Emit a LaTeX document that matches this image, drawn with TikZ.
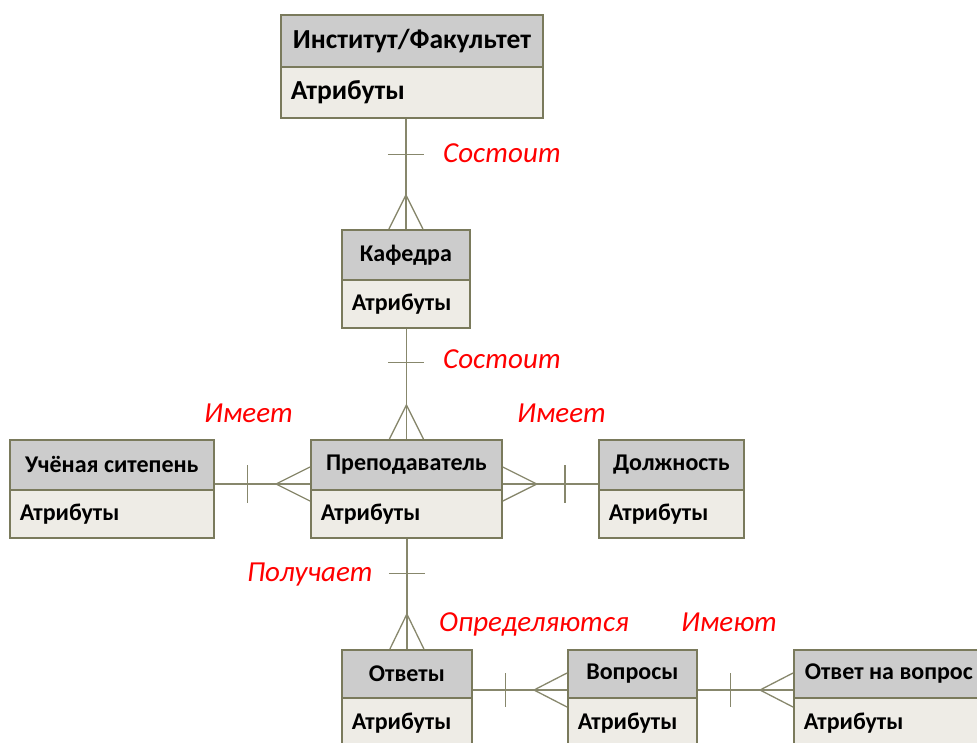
\documentclass[tikz,border=0pt]{standalone}
\usepackage{fontspec}
\setmainfont{Carlito}
\usetikzlibrary{calc}
\definecolor{hdrfill}{RGB}{204,204,204}
\definecolor{attrfill}{RGB}{238,236,230}
\definecolor{bord}{RGB}{122,122,92}
\definecolor{connc}{RGB}{135,135,108}
\definecolor{lblred}{RGB}{255,0,0}
\begin{document}
\begin{tikzpicture}[x=1pt,y=-1pt,
  hdr/.style={draw=bord, fill=hdrfill, line width=1.8pt, anchor=north west,
    inner sep=0pt, font=\bfseries\fontsize{24}{28}\selectfont},
  attr/.style={draw=bord, fill=attrfill, line width=1.8pt, anchor=north west,
    inner xsep=10pt, inner ysep=0pt, align=left, font=\bfseries\fontsize{24}{28}\selectfont},
  conn/.style={draw=connc, line width=1.3pt},
  lbl/.style={text=lblred, font=\itshape\fontsize{29}{33}\selectfont, inner sep=0pt}]
\useasboundingbox (0,0) rectangle (977,742);

% entities
\node[attr, minimum height=51pt, text width=242pt, font=\bfseries\fontsize{27.5}{31}\selectfont] (instA) at (280,66) {Атрибуты};
\node[hdr, minimum height=52pt, minimum width=262pt, font=\bfseries\fontsize{27.5}{31}\selectfont] (inst) at (280,14) {Институт/Факультет};

\node[attr, minimum height=48pt, text width=108pt] (kafA) at (341,279) {Атрибуты};
\node[hdr, minimum height=50pt, minimum width=128pt] (kaf) at (341,229) {Кафедра};

\node[attr, minimum height=48pt, text width=171pt] (prepA) at (310,489) {Атрибуты};
\node[hdr, minimum height=50pt, minimum width=191pt] (prep) at (310,439) {Преподаватель};

\node[attr, minimum height=48pt, text width=184pt] (uchA) at (9,489) {Атрибуты};
\node[hdr, minimum height=50pt, minimum width=204pt] (uch) at (9,439) {Учёная ситепень};

\node[attr, minimum height=48pt, text width=125pt] (dolA) at (598,489) {Атрибуты};
\node[hdr, minimum height=50pt, minimum width=145pt] (dol) at (598,439) {Должность};

\node[attr, minimum height=50pt, text width=110pt] (otvA) at (341,697) {Атрибуты};
\node[hdr, minimum height=48pt, minimum width=130pt] (otv) at (341,649) {Ответы};

\node[attr, minimum height=50pt, text width=109pt] (vopA) at (567,697) {Атрибуты};
\node[hdr, minimum height=48pt, minimum width=129pt] (vop) at (567,649) {Вопросы};

\node[attr, minimum height=50pt, text width=170pt] (oanA) at (793,697) {Атрибуты};
\node[hdr, minimum height=48pt, minimum width=190pt] (oan) at (793,649) {Ответ на вопрос};

% Институт -- Кафедра
\coordinate (v1s) at (kaf.north |- instA.south);
\draw[conn] (v1s) -- (kaf.north);
\draw[conn] ($(v1s)+(-18,36)$) -- ($(v1s)+(18,36)$);
\draw[conn] ($(kaf.north)+(-17,0)$) -- ($(kaf.north)+(0,-34)$) -- ($(kaf.north)+(17,0)$);

% Кафедра -- Преподаватель
\coordinate (v2s) at (prep.north |- kafA.south);
\draw[conn] (v2s) -- (prep.north);
\draw[conn] ($(v2s)+(-18,34)$) -- ($(v2s)+(18,34)$);
\draw[conn] ($(prep.north)+(-17,0)$) -- ($(prep.north)+(0,-34)$) -- ($(prep.north)+(17,0)$);

% Преподаватель -- Ответы
\coordinate (v3s) at (otv.north |- prepA.south);
\draw[conn] (v3s) -- (otv.north);
\draw[conn] ($(v3s)+(-18,35)$) -- ($(v3s)+(18,35)$);
\draw[conn] ($(otv.north)+(-17,0)$) -- ($(otv.north)+(0,-35)$) -- ($(otv.north)+(17,0)$);

% Учёная -- Преподаватель
\coordinate (h1) at ($(prep.north west)+(0,45)$);
\coordinate (h1s) at (h1 -| uch.east);
\draw[conn] (h1s) -- (h1);
\draw[conn] ($(h1s)+(33,-19)$) -- ($(h1s)+(33,19)$);
\draw[conn] ($(h1)+(0,-17)$) -- ($(h1)+(-34,0)$) -- ($(h1)+(0,17)$);

% Преподаватель -- Должность
\coordinate (h2) at ($(prep.north east)+(0,45)$);
\coordinate (h2t) at (h2 -| dol.west);
\draw[conn] (h2) -- (h2t);
\draw[conn] ($(h2t)+(-33,-19)$) -- ($(h2t)+(-33,19)$);
\draw[conn] ($(h2)+(0,-17)$) -- ($(h2)+(34,0)$) -- ($(h2)+(0,17)$);

% Ответы -- Вопросы
\coordinate (h3) at ($(vop.north west)+(0,41)$);
\coordinate (h3s) at (h3 -| otv.east);
\draw[conn] (h3s) -- (h3);
\draw[conn] ($(h3s)+(33,-17)$) -- ($(h3s)+(33,17)$);
\draw[conn] ($(h3)+(0,-17)$) -- ($(h3)+(-33,0)$) -- ($(h3)+(0,17)$);

% Вопросы -- Ответ на вопрос
\coordinate (h4) at ($(oan.north west)+(0,41)$);
\coordinate (h4s) at (h4 -| vop.east);
\draw[conn] (h4s) -- (h4);
\draw[conn] ($(h4s)+(33,-17)$) -- ($(h4s)+(33,17)$);
\draw[conn] ($(h4)+(0,-17)$) -- ($(h4)+(-33,0)$) -- ($(h4)+(0,17)$);

% labels
\node[lbl, anchor=base west] (l1) at (443,162) {Состоит};
\node[lbl, anchor=base west] (l2) at (443,368) {Состоит};
\node[lbl, anchor=base west] (l3) at (204,422) {Имеет};
\node[lbl, anchor=base west] (l4) at (517,422) {Имеет};
\node[lbl, anchor=base east] (l5) at (373,581) {Получает};
\node[lbl, anchor=base west] (l6) at (439,631) {Определяются};
\node[lbl, anchor=base west] (l7) at (681,631) {Имеют};
\end{tikzpicture}
\end{document}
